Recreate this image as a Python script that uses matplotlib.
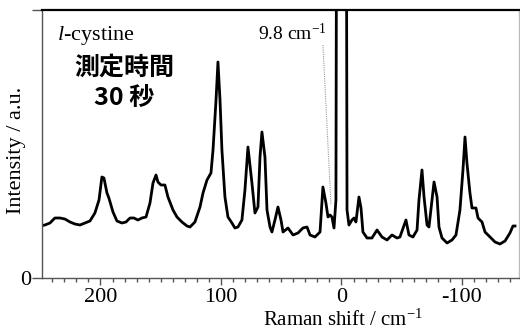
import matplotlib
matplotlib.use("Agg")
import matplotlib.pyplot as plt
from matplotlib.ticker import MultipleLocator

# Raman spectrum of l-cystine (intensity in arbitrary units)
shift = [250.2, 246.1, 241.9, 237.8, 233.6, 229.5, 225.3, 221.2, 217.0, 212.9,
         208.7, 204.6, 201.2, 198.8, 197.1, 194.6, 193.0, 189.6, 186.3, 182.2,
         178.8, 175.5, 172.2, 168.9, 165.6, 162.2, 158.9, 156.4, 153.9, 152.3,
         149.8, 146.5, 144.0, 139.8, 136.5, 132.4, 128.2, 125.7, 121.6, 117.4,
         114.9, 111.6, 108.3, 106.6, 104.1, 102.5, 100.8, 99.2, 96.7, 94.2,
         90.9, 88.4, 85.9, 82.6, 80.1, 77.6, 74.3, 71.8, 69.3, 67.6,
         66.0, 63.5, 61.8, 59.3, 57.7, 55.2, 52.7, 50.2, 48.5, 44.4,
         40.2, 36.1, 32.0, 28.6, 26.1, 22.0, 17.8, 15.4, 12.9, 11.2,
         9.5, 7.9, 6.2, 4.6, 3.7, -3.7, -4.6, -6.2, -8.7, -10.4,
         -12.0, -14.5, -16.2, -17.8, -21.2, -25.3, -29.5, -33.6, -37.8, -41.9,
         -46.1, -48.5, -53.5, -56.0, -59.3, -62.7, -64.3, -66.8, -68.5, -71.0,
         -72.6, -75.1, -76.8, -79.3, -80.9, -83.4, -87.6, -91.7, -95.0, -98.3,
         -100.8, -102.5, -104.1, -106.6, -108.3, -111.6, -113.3, -116.6, -119.1, -123.2,
         -127.4, -131.5, -135.7, -139.8, -142.3, -144.0]
intensity = [52, 53, 55, 60, 60, 59, 56, 54, 53, 55,
             57, 65, 78, 101, 100, 85, 80, 66, 57, 55,
             56, 60, 60, 58, 60, 61, 75, 95, 103, 96,
             93, 93, 81, 68, 61, 56, 52, 51, 56, 71,
             85, 98, 105, 128, 178, 216, 178, 128, 81, 61,
             55, 50, 51, 58, 88, 131, 95, 65, 71, 121,
             146, 121, 68, 51, 46, 58, 71, 58, 46, 50,
             43, 45, 50, 51, 43, 41, 46, 91, 75, 61,
             63, 61, 50, 78, 600, 600, 68, 53, 58, 60,
             56, 81, 70, 46, 40, 40, 48, 41, 38, 43,
             40, 41, 58, 43, 41, 48, 78, 108, 81, 53,
             51, 78, 96, 81, 51, 40, 35, 38, 43, 68,
             108, 141, 115, 85, 70, 70, 60, 56, 46, 41,
             36, 34, 37, 45, 52, 52]

# 9.8 cm-1 marker line
mark_shift = [15.4, 8.7]
mark_int = [233, 73]

x_major = [200, 100, 0, -100]
x_labels = ["200", "100", "0", "-100"]

plt.rcParams["font.family"] = "Liberation Serif"
plt.rcParams["mathtext.fontset"] = "custom"
plt.rcParams["mathtext.rm"] = "Liberation Serif"
plt.rcParams["mathtext.it"] = "Liberation Serif:italic"

fig = plt.figure(figsize=(5.2, 3.33), dpi=100)
ax = fig.add_axes([42 / 520, 1 - 278 / 333, 477 / 520, 268 / 333])

ax.plot(shift, intensity, color="black", lw=2.0, solid_joinstyle="round")
ax.plot(mark_shift, mark_int, color="#999999", lw=0.8, ls=(0, (1, 1)))

ax.set_xlim(248.5, -147.3)
ax.set_ylim(0, 268)

ax.set_xticks(x_major)
ax.set_xticklabels(x_labels)
ax.xaxis.set_minor_locator(MultipleLocator(10))
ax.set_yticks([0, 268])
ax.set_yticklabels(["0", ""])

ax.tick_params(axis="x", which="major", direction="out", length=5, width=1,
               color="#555555", labelsize=16, pad=2)
ax.tick_params(axis="x", which="minor", direction="out", length=3, width=1,
               color="#555555")
ax.tick_params(axis="y", direction="out", length=7, width=1, color="#555555",
               labelsize=16, pad=1)

ax.spines["top"].set_color("black")
ax.spines["top"].set_linewidth(1.6)
ax.spines["left"].set_color("#555555")
ax.spines["bottom"].set_color("#555555")
ax.spines["right"].set_color("#bbbbbb")
for s in ["left", "bottom", "right"]:
    ax.spines[s].set_linewidth(1.0)

fig.text(343 / 520, 1 - 326 / 333, "Raman shift / cm$^{-1}$", ha="center",
         va="baseline", fontsize=15)
fig.text(17 / 520, 1 - 150 / 333, "Intensity / a.u.", ha="center", va="center",
         rotation=90, fontsize=16)

fig.text(57 / 520, 1 - 40 / 333, r"$\mathit{l}$-cystine", ha="left",
         va="baseline", fontsize=16)
fig.text(124 / 520, 1 - 68 / 333, "測定時間", ha="center", va="center",
         fontsize=18, fontweight="bold", family=["Noto Sans CJK JP"])
fig.text(124 / 520, 1 - 98 / 333, "30 秒", ha="center", va="center",
         fontsize=18, fontweight="bold", family=["Noto Sans CJK JP"])
fig.text(327 / 520, 1 - 40 / 333, "9.8 cm$^{-1}$", ha="right", va="baseline",
         fontsize=14)

fig.savefig("out.png", dpi=100)
